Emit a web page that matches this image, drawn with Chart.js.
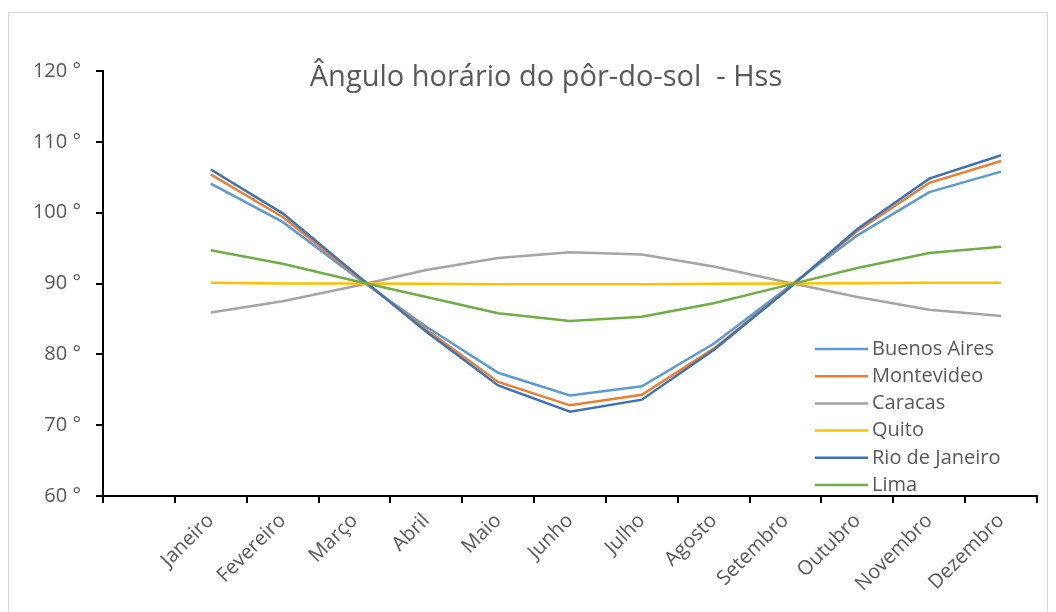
<!DOCTYPE html>
<html>
<head>
<meta charset="utf-8">
<script src="https://cdn.jsdelivr.net/npm/chart.js@4/dist/chart.umd.min.js"></script>
<style>
  body { margin: 0; background: #fff; }
  #wrap { width: 1056px; height: 612px; }
</style>
</head>
<body>
<div id="wrap"><canvas id="chart" width="1056" height="612"></canvas></div>
<script>
/* data (degrees) - first category is an empty slot */
var months = ['', 'Janeiro', 'Fevereiro', 'Março', 'Abril', 'Maio', 'Junho', 'Julho',
  'Agosto', 'Setembro', 'Outubro', 'Novembro', 'Dezembro'];

var buenosAires = [null, 104.1, 98.7, 91.1, 83.9, 77.4, 74.2, 75.5, 81.5, 89.2, 96.8, 102.9, 105.8];
var montevideo  = [null, 105.4, 99.4, 91.3, 83.5, 76.1, 72.8, 74.3, 80.8, 89.0, 97.4, 104.2, 107.3];
var caracas     = [null, 85.9, 87.5, 89.6, 91.9, 93.6, 94.4, 94.1, 92.4, 90.2, 88.1, 86.3, 85.4];
var quito       = [null, 90.1, 90.0, 90.0, 89.95, 89.9, 89.9, 89.9, 89.95, 90.0, 90.05, 90.1, 90.1];
var rio         = [null, 106.1, 99.9, 91.5, 83.2, 75.6, 71.9, 73.6, 80.6, 88.9, 97.7, 104.8, 108.1];
var lima        = [null, 94.7, 92.8, 90.4, 88.1, 85.8, 84.7, 85.3, 87.2, 89.7, 92.2, 94.3, 95.2];

var seriesNames  = ['Buenos Aires', 'Montevideo', 'Caracas', 'Quito', 'Rio de Janeiro', 'Lima'];
var seriesValues = [buenosAires, montevideo, caracas, quito, rio, lima];
var seriesColors = ['#5B9BD5', '#ED7D31', '#A5A5A5', '#FFC000', '#3B73B9', '#70AD47'];

var yTicks = { min: 60, max: 120, step: 10 };
var chartTitle = 'Ângulo horário do pôr-do-sol  - Hss';

var FONT = '"Open Sans", "Noto Sans", sans-serif';
var TEXT = '#595959';

/* frame, title and legend drawn by hand (Excel style) */
var decorPlugin = {
  id: 'decor',
  beforeDraw: function(chart) {
    var ctx = chart.ctx;
    ctx.save();
    ctx.fillStyle = '#fff';
    ctx.fillRect(0, 0, chart.width, chart.height);
    ctx.strokeStyle = '#D9D9D9';
    ctx.lineWidth = 1;
    ctx.strokeRect(8.5, 12.5, 1039, 640);
    ctx.restore();
  },
  afterDraw: function(chart) {
    var ctx = chart.ctx;
    ctx.save();
    ctx.fillStyle = TEXT;
    ctx.font = '29px ' + FONT;
    ctx.textAlign = 'center';
    ctx.textBaseline = 'middle';
    ctx.fillText(chartTitle, 546, 78);

    ctx.font = '20px ' + FONT;
    ctx.textAlign = 'left';
    var ds = chart.data.datasets;
    for (var i = 0; i < ds.length; i++) {
      var y = 349 + i * 27.2;
      ctx.strokeStyle = ds[i].borderColor;
      ctx.lineWidth = 2.5;
      ctx.beginPath();
      ctx.moveTo(815, y);
      ctx.lineTo(868, y);
      ctx.stroke();
      ctx.fillStyle = TEXT;
      ctx.fillText(ds[i].label, 872, y);
    }
    ctx.restore();
  }
};

var datasets = [];
for (var i = 0; i < seriesNames.length; i++) {
  datasets.push({
    label: seriesNames[i],
    data: seriesValues[i],
    borderColor: seriesColors[i],
    backgroundColor: seriesColors[i],
    borderWidth: 2.5,
    pointRadius: 0,
    tension: 0,
    order: seriesNames.length - i
  });
}

new Chart(document.getElementById('chart'), {
  type: 'line',
  data: { labels: months, datasets: datasets },
  plugins: [decorPlugin],
  options: {
    responsive: false,
    devicePixelRatio: 1,
    animation: false,
    layout: { padding: { top: 71, right: 19, left: 0, bottom: 0 } },
    plugins: {
      legend: { display: false },
      title: { display: false },
      tooltip: { enabled: false }
    },
    scales: {
      x: {
        offset: true,
        grid: { offset: true, drawOnChartArea: false, color: '#000', lineWidth: 2, tickLength: 7 },
        border: { color: '#000', width: 2 },
        ticks: {
          color: TEXT, font: { family: FONT, size: 20 },
          maxRotation: 45, minRotation: 45, autoSkip: false, padding: 6
        },
        afterFit: function(scale) { scale.height = 116; }
      },
      y: {
        min: yTicks.min, max: yTicks.max,
        grid: { drawOnChartArea: false, color: '#000', lineWidth: 2, tickLength: 7 },
        border: { color: '#000', width: 2 },
        ticks: {
          stepSize: yTicks.step, color: TEXT, font: { family: FONT, size: 20 }, padding: 15,
          callback: function(v) { return v + ' °'; }
        },
        afterFit: function(scale) { scale.width = 103; }
      }
    }
  }
});
</script>
</body>
</html>
